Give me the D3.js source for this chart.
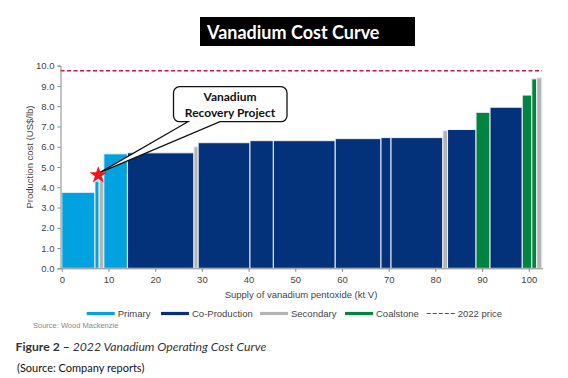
<!DOCTYPE html>
<html><head><meta charset="utf-8">
<script src="https://cdn.jsdelivr.net/npm/d3@7"></script>
<style>body{margin:0;background:#fff}svg{display:block}</style>
</head><body>
<script>
// Data
const widths = [7.1, 0.9, 1.0, 5.05, 14.25, 0.9, 11.1, 5.0, 13.25, 9.8, 2.15, 11.1, 1.0, 6.1, 3.0, 6.9, 2.05, 1.05, 1.1];
const costs  = [3.75, 4.3, 4.5, 5.65, 5.7, 6.0, 6.2, 6.3, 6.3, 6.4, 6.45, 6.45, 6.8, 6.85, 7.7, 7.95, 8.55, 9.35, 9.4];
const types  = ["Primary","Primary","Secondary","Primary","Co-Production","Secondary","Co-Production","Co-Production","Co-Production","Co-Production","Co-Production","Co-Production","Secondary","Co-Production","Coalstone","Co-Production","Coalstone","Coalstone","Secondary"];
const price2022 = 9.75;
const projectPoint = {x: 7.8, y: 4.65};
const xTicks = [0,10,20,30,40,50,60,70,80,90,100];
const yTicks = [0,1,2,3,4,5,6,7,8,9,10];
const legendNames = ["Primary","Co-Production","Secondary","Coalstone","2022 price"];
const colors = {"Primary":"#00a3df","Co-Production":"#04327a","Secondary":"#b4b4b4","Coalstone":"#00843f","2022 price":"#c3173b"};

const W=568,H=378;
const svg=d3.select("body").append("svg").attr("width",W).attr("height",H);
const x=d3.scaleLinear().domain([0,103]).range([61.8,542.8]);
const y=d3.scaleLinear().domain([0,10]).range([268.3,65.7]);

// title
svg.append("rect").attr("x",200).attr("y",17).attr("width",215).attr("height",29).attr("fill","#000");
svg.append("text").attr("x",207).attr("y",38.5).attr("fill","#fff").attr("font-family","Lato, 'Open Sans', sans-serif")
  .attr("font-weight","bold").attr("font-size",18).text("Vanadium Cost Curve");

// bars
let cum=0;
const bars=widths.map((w,i)=>{const b={x0:cum,x1:cum+w,v:costs[i],t:types[i]};cum+=w;return b;});
svg.append("g").selectAll("rect").data(bars).join("rect")
  .attr("x",d=>x(d.x0)).attr("width",d=>x(d.x1)-x(d.x0))
  .attr("y",d=>y(d.v)).attr("height",d=>y(0)-y(d.v))
  .attr("fill",d=>colors[d.t]).attr("stroke","#eef1f6").attr("stroke-width",1);

// price line
svg.append("line").attr("x1",60.5).attr("x2",542).attr("y1",y(price2022)).attr("y2",y(price2022))
  .attr("stroke",colors["2022 price"]).attr("stroke-width",1.5).attr("stroke-dasharray","4,2.5");

// axes
const yAxis=svg.append("g").attr("transform","translate(60.5,0)")
  .call(d3.axisLeft(y).tickValues(yTicks).tickFormat(d3.format(".1f")).tickSize(3).tickPadding(3));
const xAxis=svg.append("g").attr("transform",`translate(0,${y(0)+0.5})`)
  .call(d3.axisBottom(x).tickValues(xTicks).tickSize(3).tickPadding(4));
[yAxis,xAxis].forEach(a=>{
  a.select(".domain").attr("stroke","#888");
  a.selectAll(".tick line").attr("stroke","#888");
  a.selectAll("text").attr("font-family","'Liberation Sans', Arial, sans-serif").attr("font-size",9.5).attr("fill","#444");
});
xAxis.select(".domain").attr("d",`M60.5,0H543`);

svg.append("text").attr("transform","translate(33,157) rotate(-90)").attr("text-anchor","middle")
  .attr("font-family","'Liberation Sans', Arial, sans-serif").attr("font-size",9.5).attr("fill","#444")
  .text("Production cost (US$/lb)");
svg.append("text").attr("x",301).attr("y",297.5).attr("text-anchor","middle")
  .attr("font-family","'Liberation Sans', Arial, sans-serif").attr("font-size",9.5).attr("fill","#444")
  .text("Supply of vanadium pentoxide (kt V)");

// callout
const px=x(projectPoint.x)+1.5, py=y(projectPoint.y)-1.5;
const bx=173.5,by=86.7,bw=113.5,bh=35,r=6;
const cp=d3.path();
cp.moveTo(bx+r,by);cp.lineTo(bx+bw-r,by);cp.arcTo(bx+bw,by,bx+bw,by+r,r);
cp.lineTo(bx+bw,by+bh-r);cp.arcTo(bx+bw,by+bh,bx+bw-r,by+bh,r);
cp.lineTo(220,by+bh);cp.lineTo(px,py);cp.lineTo(188,by+bh);
cp.lineTo(bx+r,by+bh);cp.arcTo(bx,by+bh,bx,by+bh-r,r);
cp.lineTo(bx,by+r);cp.arcTo(bx,by,bx+r,by,r);cp.closePath();
svg.append("path").attr("d",cp.toString()).attr("fill","#fff").attr("stroke","#111").attr("stroke-width",1.3);
const ct=svg.append("text").attr("text-anchor","middle").attr("font-family","Lato, 'Open Sans', sans-serif")
  .attr("font-weight","bold").attr("font-size",12).attr("fill","#111");
ct.append("tspan").attr("x",230).attr("y",101).text("Vanadium");
ct.append("tspan").attr("x",230).attr("y",117).text("Recovery Project");

// star
svg.append("path").attr("d",d3.symbol(d3.symbolStar,95)()).attr("transform",`translate(${x(projectPoint.x)},${y(projectPoint.y)+1})`)
  .attr("fill","#f2131b");

// legend
const legX=[86.7,161,260,345,426.7];
const lg=svg.append("g");
legendNames.forEach((n,i)=>{
  lg.append("line").attr("x1",legX[i]).attr("x2",legX[i]+28).attr("y1",313.5).attr("y2",313.5)
    .attr("stroke",colors[n]).attr("stroke-width",n==="2022 price"?1.2:3.2)
    .attr("stroke-dasharray",n==="2022 price"?"4,2":null);
  lg.append("text").attr("x",legX[i]+31).attr("y",317).attr("font-family","'Liberation Sans', Arial, sans-serif")
    .attr("font-size",9.5).attr("fill","#444").text(n);
});

svg.append("text").attr("x",33).attr("y",328).attr("font-family","'Liberation Sans', Arial, sans-serif")
  .attr("font-size",7.5).attr("fill","#888").text("Source: Wood Mackenzie");
const fg=svg.append("text").attr("x",15.5).attr("y",350.5).attr("font-family","Lato, 'Open Sans', sans-serif")
  .attr("font-size",12.2).attr("fill","#333");
fg.append("tspan").attr("font-weight","bold").text("Figure 2 – ");
fg.append("tspan").attr("font-style","italic").text("2022 Vanadium Operating Cost Curve");
svg.append("text").attr("x",17).attr("y",372).attr("font-family","Lato, 'Open Sans', sans-serif")
  .attr("font-size",11).attr("fill","#111").text("(Source: Company reports)");
</script>
</body></html>
